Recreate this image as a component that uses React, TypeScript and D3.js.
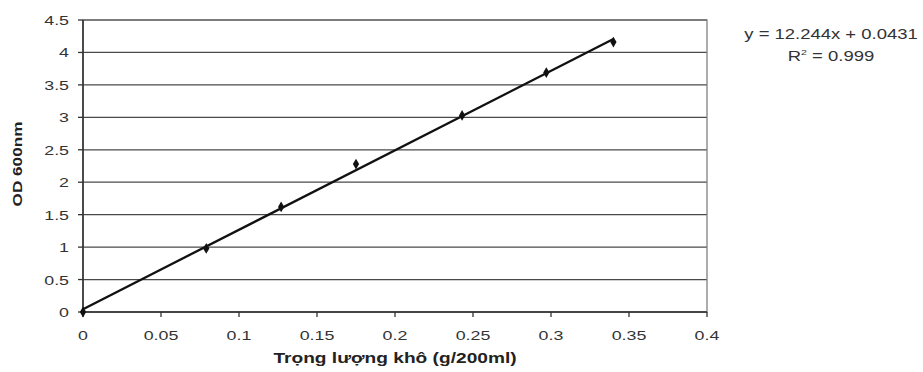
import * as d3 from "d3";

const W = 923;
const H = 372;
const PLOT = { left: 83, right: 707, top: 20, bottom: 312 };

// Dry weight (g/200ml) vs OD600 readings.
const dryWeight = [0, 0.079, 0.127, 0.175, 0.243, 0.297, 0.34];
const od600 = [0, 0.98, 1.62, 2.28, 3.03, 3.69, 4.16];
const xTicks = [0, 0.05, 0.1, 0.15, 0.2, 0.25, 0.3, 0.35, 0.4];
const yTicks = [0, 0.5, 1, 1.5, 2, 2.5, 3, 3.5, 4, 4.5];
const fitSlope = 12.244;
const fitIntercept = 0.0431;

// The source image is stretched sideways, so its text is wider than the font.
const STRETCH = 1.32;

function Label({
  x,
  y,
  rotate = 0,
  anchor = "middle",
  size = 13.5,
  bold = false,
  children,
}: {
  x: number;
  y: number;
  rotate?: number;
  anchor?: "start" | "middle" | "end";
  size?: number;
  bold?: boolean;
  children: React.ReactNode;
}) {
  return (
    <text
      transform={`translate(${x},${y}) rotate(${rotate}) scale(${STRETCH},1)`}
      textAnchor={anchor}
      fontSize={size}
      fontWeight={bold ? "bold" : "normal"}
      fill={bold ? "#222" : "#333"}
    >
      {children}
    </text>
  );
}

export default function App() {
  const x = d3.scaleLinear().domain([0, 0.4]).range([PLOT.left, PLOT.right]);
  const y = d3.scaleLinear().domain([0, 4.5]).range([PLOT.bottom, PLOT.top]);
  const x0 = d3.min(dryWeight) as number;
  const x1 = d3.max(dryWeight) as number;
  const diamond = d3.symbol(d3.symbolDiamond, 34)() ?? "";

  return (
    <svg
      width={W}
      height={H}
      style={{ position: "absolute", left: 0, top: 0, background: "#fff" }}
      fontFamily="Arial, 'Liberation Sans', sans-serif"
    >
      {yTicks.map((t) => (
        <line key={t} x1={PLOT.left} x2={PLOT.right} y1={y(t)} y2={y(t)} stroke="#4a4a4a" strokeWidth={1.3} />
      ))}
      <rect
        x={PLOT.left}
        y={PLOT.top}
        width={PLOT.right - PLOT.left}
        height={PLOT.bottom - PLOT.top}
        fill="none"
        stroke="#808080"
        strokeWidth={1.3}
      />
      <line x1={PLOT.left} x2={PLOT.left} y1={PLOT.top} y2={PLOT.bottom} stroke="#333" strokeWidth={1.6} />
      <line x1={PLOT.left} x2={PLOT.right} y1={PLOT.bottom} y2={PLOT.bottom} stroke="#333" strokeWidth={1.6} />
      {yTicks.map((t) => (
        <g key={t}>
          <line x1={PLOT.left - 5} x2={PLOT.left} y1={y(t)} y2={y(t)} stroke="#333" strokeWidth={1.3} />
          <Label x={69} y={y(t) + 5} anchor="end">
            {t}
          </Label>
        </g>
      ))}
      {xTicks.map((t) => (
        <g key={t}>
          <line x1={x(t)} x2={x(t)} y1={PLOT.bottom} y2={PLOT.bottom + 5} stroke="#333" strokeWidth={1.3} />
          <Label x={x(t)} y={340}>
            {t}
          </Label>
        </g>
      ))}
      {/* linear trendline over the measured range */}
      <line
        x1={x(x0)}
        y1={y(fitSlope * x0 + fitIntercept)}
        x2={x(x1)}
        y2={y(fitSlope * x1 + fitIntercept)}
        stroke="#111"
        strokeWidth={2.3}
      />
      {dryWeight.map((d, i) => (
        <path key={i} d={diamond} transform={`translate(${x(d)},${y(od600[i])})`} fill="#111" />
      ))}
      <Label x={22} y={(PLOT.top + PLOT.bottom) / 2 - 2} rotate={-90} size={13} bold>
        OD 600nm
      </Label>
      <Label x={(PLOT.left + PLOT.right) / 2} y={363} size={14.5} bold>
        Trọng lượng khô (g/200ml)
      </Label>
      <Label x={831} y={39} size={14}>
        y = 12.244x + 0.0431
      </Label>
      <Label x={831} y={61} size={14}>
        R<tspan fontSize={8} dy={-6}>2</tspan>
        <tspan dy={6}> = 0.999</tspan>
      </Label>
    </svg>
  );
}
